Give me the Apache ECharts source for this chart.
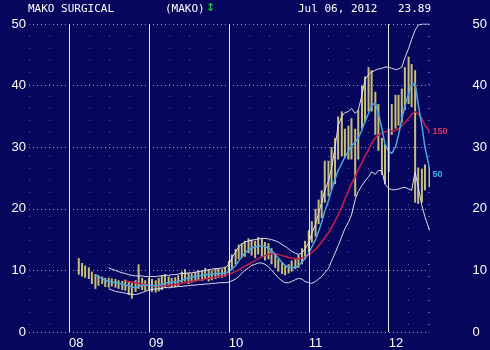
<!DOCTYPE html>
<html><head><meta charset="utf-8">
<script src="https://cdn.jsdelivr.net/npm/echarts@6/dist/echarts.min.js"></script>
<style>html,body{margin:0;padding:0;background:#06065c;overflow:hidden}#c{width:490px;height:350px}</style>
</head><body><div id="c"></div><script>
const dates=['2008-02-15','2008-03-01','2008-03-15','2008-04-01','2008-04-15','2008-05-01','2008-05-15','2008-06-01','2008-06-15','2008-07-01','2008-07-15','2008-08-01','2008-08-15','2008-09-01','2008-09-15','2008-10-01','2008-10-15','2008-11-01','2008-11-15','2008-12-01','2008-12-15',
'2009-01-01','2009-01-15','2009-02-01','2009-02-15','2009-03-01','2009-03-15','2009-04-01','2009-04-15','2009-05-01','2009-05-15','2009-06-01','2009-06-15','2009-07-01','2009-07-15','2009-08-01','2009-08-15','2009-09-01','2009-09-15','2009-10-01','2009-10-15','2009-11-01','2009-11-15','2009-12-01','2009-12-15',
'2010-01-01','2010-01-15','2010-02-01','2010-02-15','2010-03-01','2010-03-15','2010-04-01','2010-04-15','2010-05-01','2010-05-15','2010-06-01','2010-06-15','2010-07-01','2010-07-15','2010-08-01','2010-08-15','2010-09-01','2010-09-15','2010-10-01','2010-10-15','2010-11-01','2010-11-15','2010-12-01','2010-12-15',
'2011-01-01','2011-01-15','2011-02-01','2011-02-15','2011-03-01','2011-03-15','2011-04-01','2011-04-15','2011-05-01','2011-05-15','2011-06-01','2011-06-15','2011-07-01','2011-07-15','2011-08-01','2011-08-15','2011-09-01','2011-09-15','2011-10-01','2011-10-15','2011-11-01','2011-11-15','2011-12-01','2011-12-15',
'2012-01-01','2012-01-15','2012-02-01','2012-02-15','2012-03-01','2012-03-15','2012-04-01','2012-04-15','2012-05-01','2012-05-15','2012-06-01','2012-06-15','2012-07-06'];
const lows=[9.3,9.0,8.8,8.6,7.8,7.0,7.5,7.8,7.3,7.2,7.4,7.2,7.0,6.8,6.7,6.0,5.4,6.5,7.0,6.8,6.7,
6.8,6.5,6.4,6.6,6.8,7.2,7.4,7.2,7.3,7.5,8.0,8.2,7.8,8.0,8.2,8.4,8.3,8.6,8.2,8.4,8.6,8.8,8.8,9.0,
9.6,10.2,11.0,11.8,12.0,12.2,12.8,12.4,12.0,12.6,12.2,11.6,11.8,11.0,10.4,9.8,9.4,9.2,9.5,9.8,10.2,10.4,11.0,11.8,
13.0,14.5,15.5,17.5,18.5,21.0,22.0,23.0,24.0,28.0,28.5,28.3,28.0,28.0,22.0,28.0,33.0,34.0,35.8,35.8,32.0,29.4,25.5,24.0,
26.0,32.0,33.0,33.5,34.0,36.0,37.0,36.5,21.0,20.8,21.0,23.0,23.5];
const highs=[12.0,11.2,10.8,10.5,9.8,9.4,9.2,9.0,8.8,8.8,8.7,8.6,8.4,8.3,8.5,8.2,8.0,8.4,11.0,8.8,8.4,
8.8,8.6,8.4,8.8,9.2,9.4,9.0,8.8,8.9,9.2,9.8,10.2,9.6,9.5,9.8,10.0,10.0,10.4,10.2,10.0,10.3,10.4,10.2,10.6,
11.5,12.6,13.5,14.2,14.4,14.8,15.2,15.0,14.8,15.4,15.2,14.6,14.4,13.6,12.6,11.8,11.2,10.8,11.0,11.6,12.0,12.6,13.6,14.8,
16.5,18.0,20.0,21.5,23.0,27.8,27.8,30.0,31.5,35.0,35.8,33.0,33.5,34.7,33.0,36.0,40.0,41.5,43.0,42.5,39.0,37.0,31.5,30.5,
33.0,37.0,38.5,38.5,39.5,43.0,44.7,43.5,42.5,26.7,26.5,27.2,26.8];
const ma50=[null,null,null,null,null,9.3,9.0,8.7,8.4,8.2,8.1,8.0,7.9,7.8,7.6,7.5,7.3,7.2,7.4,7.6,7.6,
7.6,7.5,7.5,7.6,7.7,7.9,8.0,8.1,8.1,8.2,8.4,8.6,8.8,8.9,9.0,9.1,9.2,9.3,9.3,9.4,9.4,9.5,9.5,9.6,
9.8,10.2,10.8,11.5,12.2,12.8,13.3,13.6,13.8,13.9,14.0,13.9,13.6,13.2,12.6,12.0,11.3,10.8,10.5,10.4,10.5,10.8,11.3,12.0,
12.8,13.8,15.0,16.3,17.8,19.6,21.3,23.0,24.8,26.2,27.4,28.4,29.3,30.2,30.8,31.5,32.8,34.2,35.5,36.8,37.2,35.5,33.0,30.5,
29.3,29.0,30.0,32.0,34.5,36.7,38.6,40.2,40.4,37.0,33.5,30.0,26.5];
const ma150=[null,null,null,null,null,null,null,null,null,null,null,null,null,null,8.3,8.2,8.1,8.0,7.9,7.8,7.7,
7.6,7.5,7.5,7.5,7.5,7.5,7.6,7.6,7.7,7.8,7.9,8.0,8.1,8.2,8.3,8.4,8.5,8.6,8.7,8.8,8.9,9.0,9.1,9.2,
9.4,9.6,9.8,10.1,10.4,10.7,11.0,11.3,11.6,11.9,12.2,12.4,12.6,12.7,12.7,12.6,12.4,12.3,12.1,12.0,11.9,11.9,12.0,12.2,
12.5,12.9,13.4,14.0,14.6,15.3,16.1,17.0,18.0,19.0,20.3,21.6,22.9,24.1,25.2,26.4,27.5,28.6,29.6,30.6,31.5,32.0,32.3,32.5,
32.6,32.6,32.7,33.0,33.5,34.0,34.7,35.3,35.8,35.4,34.6,33.6,32.6];
const bbUpper=[null,null,null,null,null,null,null,null,null,10.4,10.2,10.0,9.8,9.6,9.5,9.3,9.2,9.1,9.1,9.1,9.0,
9.0,9.0,9.0,9.1,9.1,9.2,9.2,9.3,9.3,9.4,9.5,9.5,9.6,9.6,9.7,9.8,9.9,10.0,10.1,10.2,10.3,10.3,10.4,10.4,
11.0,12.0,13.0,13.8,14.3,14.6,14.8,14.9,15.0,15.1,15.2,15.2,15.1,15.0,14.8,14.6,14.2,13.9,13.5,13.1,12.8,12.6,12.8,13.5,
14.5,16.0,17.5,19.3,21.0,23.0,24.5,26.5,30.0,33.5,35.0,35.6,35.8,36.3,35.5,36.0,38.5,41.0,41.8,42.2,42.5,42.7,42.8,43.0,
43.0,42.8,42.6,42.7,43.0,44.5,46.0,47.5,49.0,49.8,50.0,50.0,50.0];
const bbLower=[null,null,null,null,null,null,null,null,null,7.0,6.8,6.6,6.5,6.4,6.3,6.2,6.1,6.1,6.2,6.4,6.6,
6.8,6.9,7.0,7.0,7.1,7.2,7.2,7.3,7.3,7.4,7.4,7.5,7.5,7.6,7.6,7.7,7.7,7.8,7.8,7.9,7.9,8.0,8.0,8.0,
8.1,8.3,8.6,9.0,9.5,10.0,10.4,10.8,11.0,11.2,11.2,11.0,10.6,10.0,9.4,8.8,8.3,8.0,8.0,8.2,8.5,8.7,8.6,8.2,
8.0,7.9,8.2,8.6,9.0,9.6,10.3,11.5,12.8,14.0,15.5,16.8,17.8,19.0,21.5,22.8,23.8,24.5,25.2,26.0,25.6,26.2,26.2,24.0,
23.3,23.1,23.1,23.2,23.4,23.5,23.2,23.0,26.0,23.5,20.5,18.7,16.5];
const yearTicks=['08','09','10','11','12'];
const yTicks=[0,10,20,30,40,50];
const titleName='MAKO SURGICAL', titleSym='(MAKO)', titleDate='Jul 06, 2012', lastPrice='23.89';

function toYear(s){const p=s.split('-').map(Number);const a=Date.UTC(p[0],0,1),b=Date.UTC(p[0]+1,0,1);return p[0]+(Date.UTC(p[0],p[1]-1,p[2])-a)/(b-a);}
const xs=dates.map(toYear);
const pair=arr=>xs.map((x,i)=>[x,arr[i]]);
const yearVals=yearTicks.map(t=>2000+Number(t));

const chart=echarts.init(document.getElementById('c'),null,{renderer:'canvas'});
const mono='"DejaVu Sans Mono", monospace';
const lblFont='"Liberation Sans", Arial, sans-serif';
chart.setOption({
  backgroundColor:'#06065c',
  animation:false,
  grid:{left:29,right:58,top:24,bottom:13},
  xAxis:{type:'value',min:2007.5,max:xs[xs.length-1],interval:0.25,
    axisLine:{show:false},axisTick:{show:false},
    splitLine:{show:true,lineStyle:{color:'#5a5ea8',type:[1,11],width:1}},
    axisLabel:{color:'#ffffff',fontSize:13,fontFamily:lblFont,align:'left',margin:5,
      formatter:v=>{const k=yearVals.indexOf(Math.round(v*100)/100);return k>=0?yearTicks[k]:'';}}},
  yAxis:[
    {type:'value',min:yTicks[0],max:yTicks[yTicks.length-1],interval:10,position:'left',
     axisLine:{show:false},axisTick:{show:false},
     splitLine:{show:true,lineStyle:{color:'#9a9ad0',type:[1,3],width:1}},
     axisLabel:{color:'#ffffff',fontSize:13,fontFamily:lblFont,margin:3}},
    {type:'value',min:yTicks[0],max:yTicks[yTicks.length-1],interval:10,position:'right',
     axisLine:{show:false},axisTick:{show:false},splitLine:{show:false},
     axisLabel:{color:'#ffffff',fontSize:13,fontFamily:lblFont,margin:43,align:'left'}}
  ],
  series:[
    {type:'custom',clip:true,data:xs.map((x,i)=>[x,lows[i],highs[i]]),
     renderItem:(params,api)=>{const lo=api.coord([api.value(0),api.value(1)]);const hi=api.coord([api.value(0),api.value(2)]);
       return {type:'rect',shape:{x:lo[0]-1,y:hi[1],width:2,height:lo[1]-hi[1]},style:{fill:'#c6be76'}};}},
    {type:'line',data:pair(bbUpper),showSymbol:false,lineStyle:{color:'#dcdcec',width:1},
     markLine:{silent:true,symbol:'none',label:{show:false},lineStyle:{color:'#e8e8f4',type:'solid',width:1},
       data:yearVals.map(v=>({xAxis:v}))}},
    {type:'line',data:pair(bbLower),showSymbol:false,lineStyle:{color:'#dcdcec',width:1}},
    {type:'line',data:pair(ma150),showSymbol:false,lineStyle:{color:'#c8204c',width:1.5},
     endLabel:{show:true,formatter:'150',color:'#e03060',fontSize:9,fontWeight:'bold',fontFamily:lblFont,distance:3}},
    {type:'line',data:pair(ma50),showSymbol:false,lineStyle:{color:'#48a8e0',width:1.5},
     endLabel:{show:true,formatter:'50',color:'#40b0e8',fontSize:9,fontWeight:'bold',fontFamily:lblFont,distance:3,offset:[0,6]}}
  ],
  graphic:[
    {type:'text',left:28,top:4,style:{text:titleName,fill:'#ffffff',font:'11px '+mono}},
    {type:'text',left:165,top:4,style:{text:titleSym,fill:'#ffffff',font:'11px '+mono}},
    {type:'text',left:206,top:3,style:{text:'\u2195',fill:'#18c040',font:'bold 11px "DejaVu Sans"'}},
    {type:'text',left:298,top:4,style:{text:titleDate,fill:'#ffffff',font:'11px '+mono}},
    {type:'text',left:398,top:4,style:{text:lastPrice,fill:'#ffffff',font:'11px '+mono}}
  ]
});
</script></body></html>
